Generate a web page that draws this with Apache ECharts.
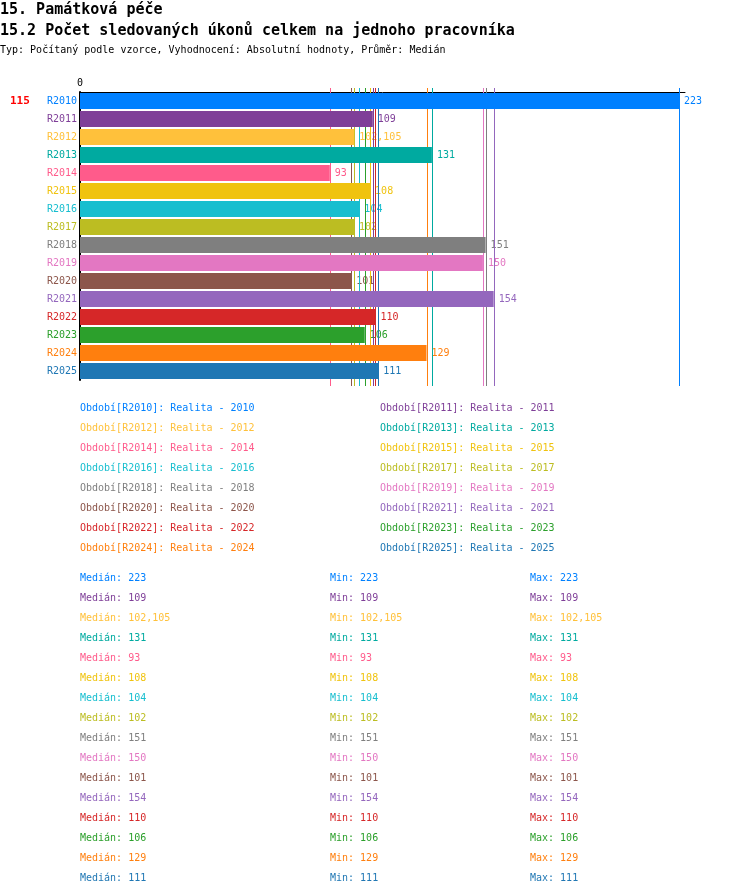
<!DOCTYPE html>
<html lang="cs">
<head>
    <meta charset="utf-8">
    <title>15.2 Počet sledovaných úkonů</title>
    <script src="https://cdn.jsdelivr.net/npm/echarts@6/dist/echarts.min.js"></script>
    <style>
        html, body { margin: 0; padding: 0; background: #fff; }
        #chart { width: 750px; height: 896px; }
    </style>
</head>
<body>
<div id="chart"></div>

<script>
    // data
    var categories = ['R2010', 'R2011', 'R2012', 'R2013', 'R2014', 'R2015', 'R2016', 'R2017',
        'R2018', 'R2019', 'R2020', 'R2021', 'R2022', 'R2023', 'R2024', 'R2025'];
    var years = ['2010', '2011', '2012', '2013', '2014', '2015', '2016', '2017',
        '2018', '2019', '2020', '2021', '2022', '2023', '2024', '2025'];
    var values = [223, 109, 102.105, 131, 93, 108, 104, 102, 151, 150, 101, 154, 110, 106, 129, 111];
    var colors = ['#0080ff', '#7f3f98', '#ffc13b', '#00aaa0', '#ff5b8b', '#f0c30f', '#17becf', '#bcbd22',
        '#7f7f7f', '#e377c2', '#8c564b', '#9467bd', '#d62728', '#2ca02c', '#ff7f0e', '#1f77b4'];
    var overallMedian = 115;
    var axisMax = 225.23;

    var FONT = '"DejaVu Sans Mono", "Liberation Mono", monospace';

    function fmt(v) {
        return String(v).replace('.', ',');
    }

    function txt(x, y, text, color, size, bold) {
        return {
            type: 'text', x: x, y: y, silent: true,
            style: {
                text: text, fill: color, verticalAlign: 'middle',
                font: (bold ? 'bold ' : '') + size + 'px ' + FONT
            }
        };
    }

    var rich = {};
    colors.forEach(function (c, i) {
        rich['c' + i] = { color: c, fontFamily: FONT, fontSize: 10 };
    });

    var graphics = [
        txt(0, 10, '15. Památková péče', '#000', 15, true),
        txt(0, 31, '15.2 Počet sledovaných úkonů celkem na jednoho pracovníka', '#000', 15, true),
        txt(0, 50, 'Typ: Počítaný podle vzorce, Vyhodnocení: Absolutní hodnoty, Průměr: Medián', '#000', 10, false),
        txt(10, 101, String(overallMedian), '#ff0000', 11, true)
    ];

    // legend block, two columns
    categories.forEach(function (c, i) {
        graphics.push(txt(80 + (i % 2) * 300, 408 + Math.floor(i / 2) * 20,
            'Období[' + c + ']: Realita - ' + years[i], colors[i], 10, false));
    });

    // stats block
    values.forEach(function (v, i) {
        var y = 578 + i * 20;
        graphics.push(txt(80, y, 'Medián: ' + fmt(v), colors[i], 10, false));
        graphics.push(txt(330, y, 'Min: ' + fmt(v), colors[i], 10, false));
        graphics.push(txt(530, y, 'Max: ' + fmt(v), colors[i], 10, false));
    });

    var chart = echarts.init(document.getElementById('chart'));
    chart.setOption({
        backgroundColor: '#fff',
        animation: false,
        textStyle: { fontFamily: FONT },
        grid: { left: 80, top: 92, width: 605, height: 288 },
        xAxis: {
            type: 'value',
            position: 'top',
            min: 0,
            max: axisMax,
            splitLine: { show: false },
            axisTick: { show: false },
            axisLine: { show: true, lineStyle: { color: '#000', width: 1 } },
            axisLabel: {
                margin: 4, color: '#000', fontSize: 10, fontFamily: FONT,
                formatter: function (v) { return v === 0 ? '0' : ''; }
            }
        },
        yAxis: {
            type: 'category',
            data: categories,
            inverse: true,
            axisTick: { show: false },
            axisLine: { show: true, lineStyle: { color: '#000', width: 2 } },
            axisLabel: {
                margin: 3,
                formatter: function (v, i) { return '{c' + i + '|' + v + '}'; },
                rich: rich
            }
        },
        graphic: graphics,
        series: [
            {
                // median lines
                type: 'custom',
                z: 2,
                silent: true,
                data: values.map(function (v, i) { return [v, i]; }),
                renderItem: function (params, api) {
                    var x = Math.round(api.coord([api.value(0), 0])[0]) + 0.5;
                    var cs = params.coordSys;
                    return {
                        type: 'line',
                        shape: { x1: x, y1: cs.y - 4, x2: x, y2: cs.y + cs.height + 6 },
                        style: { stroke: colors[params.dataIndex], lineWidth: 1 }
                    };
                }
            },
            {
                // value labels (under the lines)
                type: 'bar',
                z: 1,
                silent: true,
                barWidth: 16,
                barGap: '-100%',
                itemStyle: { color: 'transparent' },
                data: values.map(function (v, i) {
                    return {
                        value: v,
                        label: {
                            show: true, position: 'right', distance: 5,
                            color: colors[i], fontSize: 10, fontFamily: FONT,
                            formatter: function (p) { return fmt(p.value); }
                        }
                    };
                })
            },
            {
                type: 'bar',
                z: 3,
                silent: true,
                barWidth: 16,
                barGap: '-100%',
                data: values.map(function (v, i) {
                    return { value: v, itemStyle: { color: colors[i] } };
                })
            }
        ]
    });
</script>
</body>
</html>
